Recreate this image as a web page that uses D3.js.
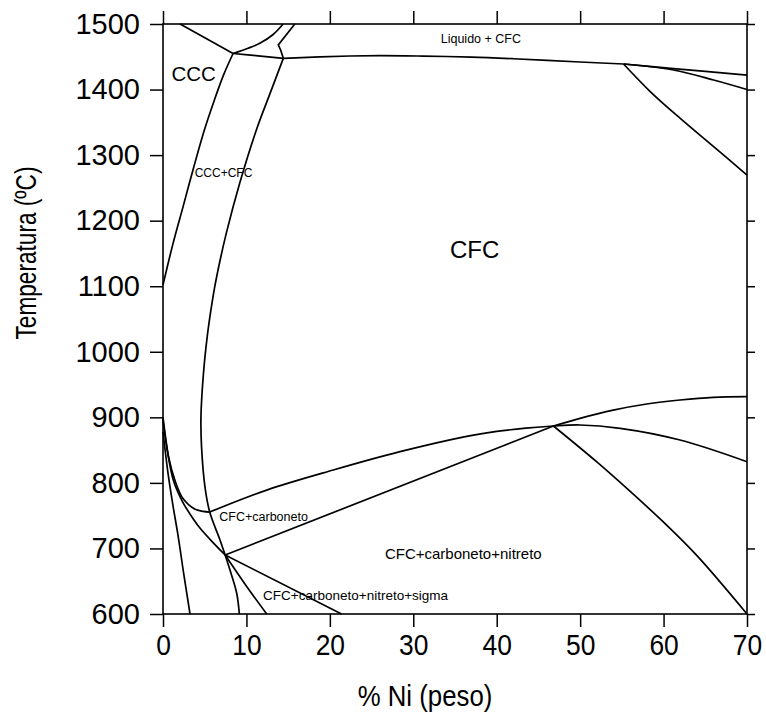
<html>
<head>
<meta charset="utf-8">
<title>Diagrama de fases</title>
<script src="https://cdn.jsdelivr.net/npm/d3@7"></script>
<style>
body { margin: 0; background: #fff; }
text { font-family: "Liberation Sans", Arial, sans-serif; fill: #000; }
.curve { fill: none; stroke: #000; stroke-width: 1.7; }
.axis line { stroke: #000; stroke-width: 1.5; }
</style>
</head>
<body>
<svg width="766" height="722"></svg>
<script>

// ticks
var xTicks = [0, 10, 20, 30, 40, 50, 60, 70];
var yTicks = [600, 700, 800, 900, 1000, 1100, 1200, 1300, 1400, 1500];

// phase boundaries, [%Ni, T]
var liqCCC      = [[2.05, 1500], [8.4, 1455]];
var liqCFC      = [[8.4, 1455], [10.2, 1463], [11.6, 1470.5], [13.2, 1484], [14.4, 1500]];
var peritetico  = [[8.4, 1455], [11.4, 1451.5], [14.42, 1447.6]];
var dobra       = [[15.8, 1500], [13.82, 1468], [14.11, 1460], [14.42, 1447.6]];
var solidusCFC  = [[14.42, 1447.6], [22.4, 1451.2], [26, 1451.8], [31.2, 1451], [37, 1449.5], [42, 1447], [50, 1442], [55.2, 1439]];
var topoDir1    = [[55.2, 1439], [61.2, 1432], [70, 1422]];
var topoDir2    = [[55.2, 1439], [61.2, 1429.8], [66, 1414.5], [70, 1400]];
var diagSup     = [[55.2, 1439], [58.4, 1397], [62, 1356], [66, 1313], [70, 1269.6]];
var limCCC      = [[8.4, 1455], [7.25, 1422], [6.05, 1380], [4.95, 1338], [3.65, 1280], [2.4, 1221], [1.2, 1165], [0, 1102]];
var limCFC      = [[14.42, 1447.6], [12.8, 1393], [11.18, 1338], [9.19, 1257], [7.59, 1181], [6.85, 1140], [6.2, 1099],
                   [5.7, 1060], [5.3, 1023], [4.85, 967], [4.55, 901], [4.62, 855], [5.03, 794], [5.6, 755.5],
                   [6.83, 713], [7.45, 690], [8.03, 667], [8.83, 632], [9.15, 600]];
var solvusCarb  = [[0, 900], [0.7, 838], [1.4, 805], [2.4, 776], [3.8, 760], [4.8, 756.5], [5.6, 755.5]];
var tieSup      = [[5.6, 755.5], [12.43, 789], [20.41, 819.6], [28.41, 847.6], [36.4, 871], [40, 878.5], [43.5, 883.5],
                   [46.8, 886.8], [49.98, 888.3], [54.8, 883.2], [61.97, 865.4], [70, 832.3]];
var tieInf      = [[7.45, 690], [46.8, 886.8]];
var nitreto     = [[46.8, 886.8], [49.98, 898.5], [53.97, 911], [57.98, 920.3], [61.97, 926.4], [65.96, 930.5], [70, 931.5]];
var diagInf     = [[46.8, 886.8], [52, 832], [56, 787], [60, 740], [64, 689], [70, 600]];
var linha1      = [[0, 878], [0.6, 815], [1.2, 765], [1.8, 720], [2.5, 660], [3.24, 600]];
var linha2      = [[0, 895], [1.24, 804], [2.4, 770], [3.63, 745], [4.5, 730], [6, 709], [7.45, 690]];
var sigma1      = [[7.45, 690], [10.03, 642], [12.43, 600]];
var sigma2      = [[7.45, 690], [21.4, 600]];

var curvas = [liqCFC, peritetico, solidusCFC, topoDir1, topoDir2, diagSup, limCCC, limCFC,
              solvusCarb, tieSup, nitreto, diagInf, linha1, linha2, sigma1];
var retas = [liqCCC, dobra, tieInf, sigma2];

// region labels: text, %Ni, T, size, anchor
var rotulos = [
  ["Liquido + CFC", 38.1, 1471.4, 12.5, "middle"],
  ["CCC", 1.02, 1413.5, 20.5, "start"],
  ["CCC+CFC", 3.8, 1267, 12, "start"],
  ["CFC", 34.4, 1143.5, 24, "start"],
  ["CFC+carboneto", 6.75, 742.3, 12.5, "start"],
  ["CFC+carboneto+nitreto", 26.6, 683.9, 15, "start"],
  ["CFC+carboneto+nitreto+sigma", 12.0, 621.4, 13.5, "start"]
];

var svg = d3.select("svg"),
    margin = {top: 24, right: 19, bottom: 108, left: 163},
    width = +svg.attr("width") - margin.left - margin.right,
    height = +svg.attr("height") - margin.top - margin.bottom,
    g = svg.append("g").attr("transform", "translate(" + margin.left + "," + margin.top + ")");

var x = d3.scaleLinear().domain([0, 70]).range([0, width]);
var y = d3.scaleLinear().domain([600, 1500]).range([height, 0]);

var suave = d3.line()
    .x(function(d) { return x(d[0]); })
    .y(function(d) { return y(d[1]); })
    .curve(d3.curveCatmullRom.alpha(0.5));

var reta = d3.line()
    .x(function(d) { return x(d[0]); })
    .y(function(d) { return y(d[1]); });

// axes, ticks outward on all four sides
var ax = g.append("g").attr("class", "axis axis--y")
    .call(d3.axisLeft(y).tickValues(yTicks).tickSize(13).tickSizeOuter(0).tickPadding(10).tickFormat(d3.format("d")));
ax.selectAll("text").style("font-size", "29px");

var bx = g.append("g").attr("class", "axis axis--x")
    .attr("transform", "translate(0," + height + ")")
    .call(d3.axisBottom(x).tickValues(xTicks).tickSize(13).tickSizeOuter(0).tickPadding(7));
bx.selectAll("text").style("font-size", "30px").attr("transform", "scale(0.88,1)");

g.append("g").attr("class", "axis")
    .call(d3.axisTop(x).tickValues(xTicks).tickSize(13).tickSizeOuter(0).tickFormat(""));
g.append("g").attr("class", "axis")
    .attr("transform", "translate(" + width + ",0)")
    .call(d3.axisRight(y).tickValues(yTicks).tickSize(8).tickSizeOuter(0).tickFormat(""));

g.selectAll(".axis .domain").remove();

g.append("rect")
    .attr("width", width)
    .attr("height", height)
    .attr("fill", "none")
    .attr("stroke", "#000")
    .attr("stroke-width", 1.6);

// labels
g.selectAll(".rotulo")
    .data(rotulos)
  .enter().append("text")
    .attr("class", "rotulo")
    .attr("x", function(d) { return x(d[1]); })
    .attr("y", function(d) { return y(d[2]); })
    .attr("text-anchor", function(d) { return d[4]; })
    .style("font-size", function(d) { return d[3] + "px"; })
    .text(function(d) { return d[0]; });

// boundaries
g.selectAll(".suave")
    .data(curvas)
  .enter().append("path")
    .attr("class", "curve suave")
    .attr("d", suave);

g.selectAll(".reta")
    .data(retas)
  .enter().append("path")
    .attr("class", "curve reta")
    .attr("d", reta);

// axis titles
svg.append("text")
    .attr("transform", "translate(36,253) rotate(-90) scale(0.78,1)")
    .attr("text-anchor", "middle")
    .style("font-size", "29px")
    .text("Temperatura (ºC)");

svg.append("text")
    .attr("transform", "translate(425,706) scale(0.86,1)")
    .attr("text-anchor", "middle")
    .style("font-size", "30px")
    .text("% Ni (peso)");

</script>
</body>
</html>
